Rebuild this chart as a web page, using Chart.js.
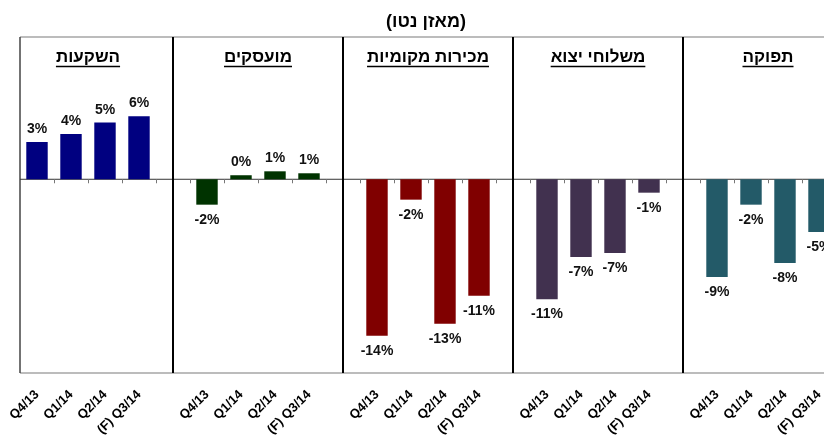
<!DOCTYPE html>
<html>
<head>
<meta charset="utf-8">
<script src="https://cdn.jsdelivr.net/npm/chart.js@4"></script>
<style>
  html, body { margin: 0; padding: 0; background: #fff; overflow: hidden; }
  #wrap { width: 840px; height: 435px; }
</style>
</head>
<body>
<div id="wrap"><canvas id="c" width="840" height="435"></canvas></div>
<script>
const chartTitle = '(מאזן נטו)'
const panelTitles = ['השקעות', 'מועסקים', 'מכירות מקומיות', 'משלוחי יצוא', 'תפוקה']
const quarters = ['Q4/13', 'Q1/14', 'Q2/14', '(F) Q3/14']
const investment = [3.42, 4.16, 5.2, 5.78]
const employed = [-2.33, 0.37, 0.73, 0.55]
const domesticSales = [-14.35, -1.87, -13.25, -10.68]
const exportShipments = [-11.0, -7.13, -6.76, -1.23]
const production = [-8.96, -2.33, -7.68, -4.83]
const panelColors = ['#000080', '#003300', '#800000', '#41314f', '#235a68']
const yMin = -17.77
const yMax = 13.05

// one category axis, an empty slot between panels
const series = [investment, employed, domesticSales, exportShipments, production]
const labels = [], values = [], colors = [], groupStart = [], gapIndex = []
series.forEach((s, i) => {
  if (i) { gapIndex.push(labels.length); labels.push(''); values.push(null); colors.push('rgba(0,0,0,0)') }
  groupStart.push(labels.length)
  s.forEach((v, j) => { labels.push(quarters[j]); values.push(v); colors.push(panelColors[i]) })
})

const FONT = 'Arial, "Liberation Sans", sans-serif'

const line = (ctx, x1, y1, x2, y2) => { ctx.beginPath(); ctx.moveTo(x1, y1); ctx.lineTo(x2, y2); ctx.stroke() }

const framePlugin = {
  id: 'frame',
  beforeDatasetsDraw(chart) {
    const { ctx, chartArea: a, scales: { x, y } } = chart
    const step = x.getPixelForValue(1) - x.getPixelForValue(0)
    const zero = y.getPixelForValue(0)
    ctx.save()
    ctx.strokeStyle = '#a6a6a6'
    ctx.lineWidth = 1.5
    line(ctx, a.left, a.top, a.right, a.top)
    line(ctx, a.left, a.bottom, a.right, a.bottom)
    ctx.strokeStyle = '#444'
    ctx.lineWidth = 1.5
    line(ctx, a.left, a.top, a.left, a.bottom)
    ctx.strokeStyle = '#333'
    ctx.lineWidth = 1
    line(ctx, a.left, zero, a.right, zero)
    ctx.strokeStyle = '#777'
    for (let k = 1; k <= labels.length; k++) {
      const px = Math.round(a.left + step * k) + 0.5
      line(ctx, px, zero, px, zero + 4)
    }
    ctx.strokeStyle = '#000'
    ctx.lineWidth = 2
    gapIndex.forEach(g => {
      const px = x.getPixelForValue(g)
      line(ctx, px, a.top, px, a.bottom)
    })
    ctx.restore()
  },
  afterDatasetsDraw(chart) {
    const { ctx, chartArea: a, scales: { x } } = chart
    ctx.save()
    // value labels
    ctx.fillStyle = '#111'
    ctx.font = 'bold 14px ' + FONT
    ctx.textAlign = 'center'
    ctx.textBaseline = 'alphabetic'
    chart.getDatasetMeta(0).data.forEach((el, i) => {
      const v = values[i]
      if (v === null) return
      const txt = Math.round(v) + '%'
      if (v >= 0) ctx.fillText(txt, el.x, el.y - 9)
      else ctx.fillText(txt, el.x, el.y + 19)
    })
    // panel titles, underlined
    ctx.font = 'bold 17px ' + FONT
    ctx.fillStyle = '#000'
    ctx.strokeStyle = '#000'
    ctx.lineWidth = 1.4
    panelTitles.forEach((t, i) => {
      const cx = (x.getPixelForValue(groupStart[i]) + x.getPixelForValue(groupStart[i] + 3)) / 2
      ctx.fillText(t, cx, 62)
      const w = ctx.measureText(t).width
      line(ctx, cx - w / 2, 66.5, cx + w / 2, 66.5)
    })
    // chart title
    ctx.font = 'bold 18px ' + FONT
    ctx.fillText(chartTitle, (a.left + a.right) / 2 - 2, 27)
    ctx.restore()
  }
}

new Chart(document.getElementById('c'), {
  type: 'bar',
  data: {
    labels,
    datasets: [{ data: values, backgroundColor: colors, categoryPercentage: 1, barPercentage: 0.63 }]
  },
  options: {
    responsive: false,
    animation: false,
    layout: { padding: { left: 20, right: 4, top: 37, bottom: 0 } },
    plugins: { legend: { display: false }, tooltip: { enabled: false }, title: { display: false } },
    scales: {
      x: {
        grid: { display: false, drawTicks: false },
        border: { display: false },
        ticks: {
          autoSkip: false, minRotation: 45, maxRotation: 45, padding: 14,
          color: '#000', font: { family: FONT, size: 13, weight: 'bold' }
        },
        afterFit: s => { s.height = 62; s.paddingLeft = 0; s.paddingRight = 0 }
      },
      y: { display: false, min: yMin, max: yMax }
    }
  },
  plugins: [framePlugin]
})
</script>
</body>
</html>
